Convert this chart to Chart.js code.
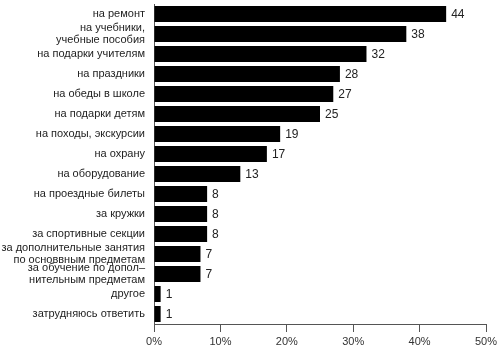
<!DOCTYPE html>
<html>
<head>
<meta charset="utf-8">
<script src="https://cdn.jsdelivr.net/npm/chart.js@4/dist/chart.umd.min.js"></script>
<style>
html,body{margin:0;padding:0;background:#fff;}
#wrap{width:500px;height:353px;position:relative;}
</style>
</head>
<body>
<div id="wrap"><canvas id="c" width="500" height="353"></canvas></div>
<script>
const categories = [
  "на ремонт",
  ["на учебники,", "учебные пособия"],
  "на подарки учителям",
  "на праздники",
  "на обеды в школе",
  "на подарки детям",
  "на походы, экскурсии",
  "на охрану",
  "на оборудование",
  "на проездные билеты",
  "за кружки",
  "за спортивные секции",
  ["за дополнительные занятия", "по основвным предметам"],
  ["за обучение по допол–", "нительным предметам"],
  "другое",
  "затрудняюсь ответить"
];
const values = [44, 38, 32, 28, 27, 25, 19, 17, 13, 8, 8, 8, 7, 7, 1, 1];
const xTicks = [0, 10, 20, 30, 40, 50];

const valueLabels = {
  id: 'valueLabels',
  afterDatasetsDraw(chart) {
    const ctx = chart.ctx;
    const meta = chart.getDatasetMeta(0);
    ctx.save();
    ctx.font = '12px "Liberation Sans", Arial, sans-serif';
    ctx.fillStyle = '#222';
    ctx.textAlign = 'left';
    ctx.textBaseline = 'middle';
    meta.data.forEach((bar, i) => {
      ctx.fillText(String(values[i]), bar.x + 5, bar.y + 1);
    });
    ctx.restore();
  }
};

new Chart(document.getElementById('c'), {
  type: 'bar',
  data: {
    labels: categories,
    datasets: [{
      data: values,
      backgroundColor: '#000',
      borderWidth: 0,
      barPercentage: 0.8,
      categoryPercentage: 1.0
    }]
  },
  options: {
    indexAxis: 'y',
    responsive: false,
    animation: false,
    devicePixelRatio: 1,
    layout: { padding: { top: 4, right: 14, left: 0, bottom: 0 } },
    plugins: { legend: { display: false }, tooltip: { enabled: false } },
    scales: {
      x: {
        min: 0, max: 50,
        afterBuildTicks: s => { s.ticks = xTicks.map(v => ({ value: v })); },
        afterFit: s => { s.height = 29; s.paddingLeft = 0; s.paddingRight = 0; },
        grid: { drawOnChartArea: false, drawTicks: true, tickLength: 8, color: '#555', lineWidth: 1 },
        border: { display: true, color: '#555', width: 1 },
        ticks: {
          callback: v => v + '%',
          color: '#333',
          padding: 3,
          maxRotation: 0,
          font: { family: '"Liberation Sans", Arial, sans-serif', size: 11 }
        }
      },
      y: {
        afterFit: s => { s.width = 154; s.paddingTop = 0; s.paddingBottom = 0; },
        grid: { display: false, drawTicks: false },
        border: { display: true, color: '#555', width: 1 },
        ticks: {
          color: '#222',
          padding: 9,
          autoSkip: false,
          font: { family: '"Liberation Sans", Arial, sans-serif', size: 11, lineHeight: 1.1 }
        }
      }
    }
  },
  plugins: [valueLabels]
});
</script>
</body>
</html>
